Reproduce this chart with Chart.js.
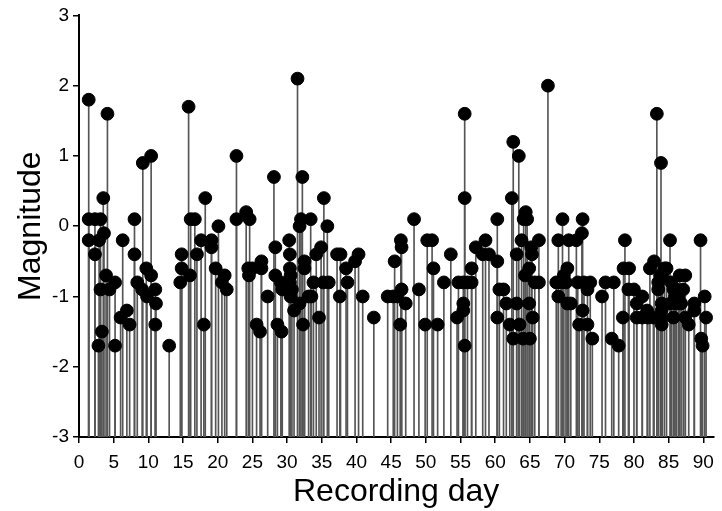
<!DOCTYPE html>
<html lang="en">
<head>
    <meta charset="UTF-8">
    <title>Magnitude by recording day</title>
    <script src="https://cdn.jsdelivr.net/npm/chart.js"></script>
    <style>
        body {
            margin: 0;
            background: #fff;
        }
        canvas {
            display: block;
        }
    </style>
</head>
<body>
    <canvas id="stemChart" width="722" height="511"></canvas>
    <script>
        // Events: recording day and magnitude
        const days = [
            1.4, 1.4, 1.4, 2.3, 2.3, 2.8, 2.9, 3.1, 3.1, 3.3, 3.5, 3.6, 3.9, 4.1, 4.4, 5.2, 5.2,
            6.0, 6.3, 6.9, 7.3, 8.0, 8.0, 8.4, 9.1, 9.2, 9.7, 9.8, 10.4, 10.4, 11.0, 11.1, 11.0,
            13.0, 14.8, 14.8, 14.6, 15.8, 16.1, 16.7, 16.0, 17.0, 17.6, 18.2, 18.0, 19.1, 19.1,
            19.7, 20.1, 20.6, 21.0, 21.3, 22.7, 22.7, 24.1, 24.6, 24.4, 25.0, 24.5, 26.3, 26.3,
            25.6, 26.1, 27.2, 28.1, 28.3, 28.3, 29.1, 29.3, 28.6, 29.2, 30.3, 30.4, 30.4, 30.5,
            30.4, 30.7, 30.5, 31.0, 31.5, 31.8, 31.8, 32.0, 32.2, 32.3, 32.5, 32.5, 33.1, 33.4,
            33.5, 33.8, 34.2, 34.6, 34.9, 35.2, 35.3, 35.8, 36.0, 37.2, 37.6, 37.7, 38.5, 38.7,
            39.8, 40.3, 40.9, 42.5, 44.5, 45.3, 45.5, 45.9, 46.3, 46.4, 46.5, 46.5, 47.1, 48.3,
            49.0, 49.9, 50.2, 50.9, 51.1, 51.7, 52.6, 53.6, 54.5, 54.7, 55.4, 55.4, 55.4, 55.6,
            55.6, 55.6, 56.0, 56.6, 56.6, 57.2, 58.2, 58.6, 59.1, 60.3, 60.3, 60.3, 60.6, 61.2,
            61.6, 62.1, 62.4, 62.6, 62.6, 63.1, 63.1, 63.4, 63.5, 63.8, 64.0, 64.1, 64.3, 64.4,
            64.6, 64.9, 64.9, 65.0, 65.2, 65.3, 65.4, 65.7, 66.3, 66.3, 67.6, 68.8, 69.1, 69.1,
            69.5, 69.7, 69.9, 70.2, 70.4, 70.4, 70.6, 70.9, 71.7, 71.9, 72.1, 72.5, 72.6, 72.6,
            72.8, 73.3, 73.3, 73.7, 74.0, 75.4, 75.9, 76.8, 77.1, 77.8, 78.4, 78.5, 78.7, 79.2,
            79.3, 80.0, 80.4, 80.4, 81.2, 81.2, 81.9, 82.0, 82.3, 82.8, 82.9, 83.3, 83.5, 83.5,
            83.8, 83.9, 84.0, 84.0, 84.0, 84.0, 84.1, 84.4, 84.7, 85.2, 85.3, 85.4, 85.7, 85.7,
            85.9, 86.1, 86.1, 86.4, 86.6, 86.8, 87.1, 87.4, 87.4, 87.9, 88.7, 88.7, 89.6, 89.7,
            89.9, 90.2, 90.4
        ];
        const magnitudes = [
            1.8, 0.1, -0.2, 0.1, -0.4, -1.7, -0.2, 0.1, -0.9, -1.5, 0.4, -0.1, -0.7, 1.6, -0.9, -0.8, -1.7,
            -1.3, -0.2, -1.2, -1.4, 0.1, -0.4, -0.8, -0.9, 0.9, -0.6, -1.0, 1.0, -0.7, -0.9, -1.1, -1.4,
            -1.7, -0.4, -0.6, -0.8, 1.7, 0.1, 0.1, -0.7, -0.4, -0.2, 0.4, -1.4, -0.2, -0.3,
            -0.6, 0.0, -0.8, -0.7, -0.9, 1.0, 0.1, 0.2, 0.1, -0.6, -0.6, -0.7, -0.5, -0.6,
            -1.4, -1.5, -1.0, 0.7, -0.3, -0.7, -0.8, -0.9, -1.4, -1.5, -0.2, -0.4, -0.6, -0.7,
            -0.8, -0.9, -1.0, -1.2, 2.1, 0.0, -1.1, 0.1, 0.7, -1.4, -0.5, -0.6, -1.0, 0.1,
            -1.0, -0.8, -0.4, -1.3, -0.3, -0.8, 0.4, 0.0, -0.8, -0.4, -1.0, -0.4, -0.6, -0.8,
            -0.5, -0.4, -1.0, -1.3, -1.0, -1.0, -0.5, -1.0, -1.4, -0.2, -0.3, -0.9, -1.1, 0.1,
            -0.9, -1.4, -0.2, -0.2, -0.6, -1.4, -0.8, -0.4, -1.3, -0.8, -0.8, -1.1, -1.2, 1.6,
            0.4, -1.7, -0.8, -0.8, -0.6, -0.3, -0.4, -0.2, -0.4, 0.1, -0.5, -1.3, -0.9, -0.9,
            -1.1, -1.4, 0.4, 1.2, -1.6, -0.4, -1.1, 1.0, -1.4, -0.2, -1.6, 0.1, -0.7, 0.2,
            0.1, -0.6, -1.1, -1.6, -0.3, -0.4, -1.3, -0.8, -0.2, -0.8, 2.0, -0.8, -0.2, -1.0,
            -0.8, 0.1, -0.7, -0.8, -0.6, -1.1, -0.2, -1.1, -0.2, -0.8, -1.4, -0.1, 0.1, -1.2,
            -0.8, -0.9, -1.4, -0.8, -1.6, -1.0, -0.8, -1.6, -0.8, -1.7, -1.3, -0.6, -0.2, -0.9,
            -0.6, -0.9, -1.1, -1.3, -1.0, -1.3, -1.2, -1.3, -0.6, -1.3, -0.5, 1.6, -0.8, -0.9,
            -0.7, 0.9, -1.1, -1.2, -1.3, -1.4, -0.7, -0.6, -0.6, -0.2, -1.1, -0.8, -0.9, -1.3,
            -1.0, -0.9, -1.1, -1.0, -0.7, -1.1, -0.9, -0.7, -1.3, -1.4, -1.1, -1.2, -0.2, -1.6,
            -1.7, -1.0, -1.3
        ];

        const yMin = -3;
        const yMax = 3;
        const xMin = 0;
        const xMax = 91.45;

        const stems = days.map((d, i) => ({ x: d, y: [yMin, magnitudes[i]] }));
        const points = days.map((d, i) => ({ x: d, y: magnitudes[i] }));

        const font = 'Liberation Sans, Arial, sans-serif';

        new Chart(document.getElementById('stemChart'), {
            type: 'bar',
            data: {
                datasets: [
                    {
                        type: 'scatter',
                        data: points,
                        backgroundColor: '#000',
                        borderColor: '#000',
                        pointRadius: 6.4,
                        pointHoverRadius: 6.4,
                        order: 0
                    },
                    {
                        type: 'bar',
                        data: stems,
                        backgroundColor: '#555',
                        borderWidth: 0,
                        barThickness: 1,
                        grouped: false,
                        order: 1
                    }
                ]
            },
            options: {
                responsive: false,
                animation: false,
                layout: { padding: { top: 14, right: 0, bottom: 0, left: 0 } },
                plugins: {
                    legend: { display: false },
                    tooltip: { enabled: false }
                },
                scales: {
                    x: {
                        type: 'linear',
                        min: xMin,
                        max: xMax,
                        offset: false,
                        border: { display: true, color: '#000', width: 2 },
                        grid: {
                            display: true,
                            offset: false,
                            drawOnChartArea: false,
                            drawTicks: true,
                            tickLength: 6,
                            color: '#000',
                            lineWidth: 1.5
                        },
                        ticks: {
                            stepSize: 5,
                            includeBounds: false,
                            autoSkip: false,
                            maxRotation: 0,
                            color: '#000',
                            padding: 8,
                            font: { family: font, size: 19 }
                        },
                        title: {
                            display: true,
                            text: 'Recording day',
                            color: '#000',
                            padding: { top: 0, bottom: 0 },
                            font: { family: font, size: 32 }
                        },
                        afterFit: scale => { scale.height = 74; }
                    },
                    y: {
                        min: yMin,
                        max: yMax,
                        border: { display: true, color: '#000', width: 2 },
                        grid: {
                            display: true,
                            drawOnChartArea: false,
                            drawTicks: true,
                            tickLength: 6,
                            color: '#000',
                            lineWidth: 1.5
                        },
                        ticks: {
                            stepSize: 1,
                            color: '#000',
                            padding: 4,
                            font: { family: font, size: 19 }
                        },
                        title: {
                            display: true,
                            text: 'Magnitude',
                            color: '#000',
                            padding: { top: 12, bottom: 0 },
                            font: { family: font, size: 32 }
                        },
                        afterFit: scale => { scale.width = 79; }
                    }
                }
            }
        });
    </script>
</body>
</html>
